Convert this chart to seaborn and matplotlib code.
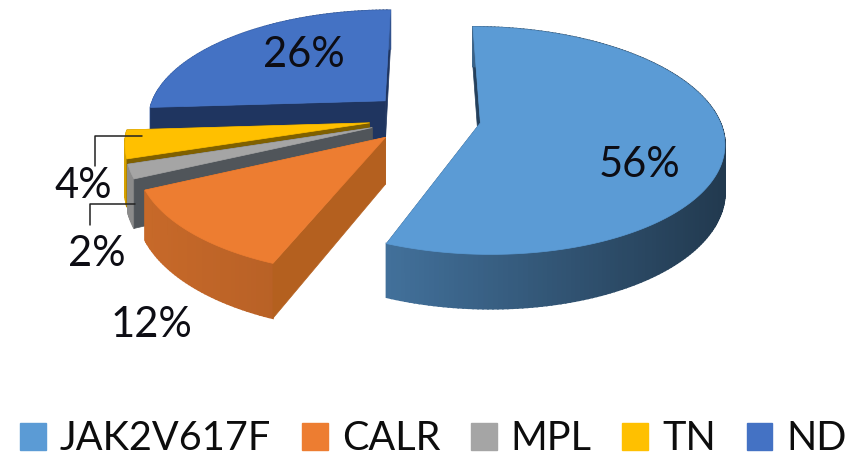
import numpy as np
import matplotlib
matplotlib.use("Agg")
import matplotlib.pyplot as plt
from matplotlib.patches import Rectangle
import seaborn as sns

categories = ["JAK2V617F", "CALR", "MPL", "TN", "ND"]
shares = [56, 12, 2, 4, 26]
top_hex = ["#5B9BD5", "#ED7D31", "#A5A5A5", "#FFC000", "#4472C4"]
wall_hex = ["#24405C", "#B4601F", "#50555A", "#7F6000", "#1F3560"]

sns.set_theme(style="white")
plt.rcParams["font.family"] = ["Lato", "DejaVu Sans"]
palette = sns.color_palette(top_hex)
wall_palette = sns.color_palette(wall_hex)

# Projection of the tilted pie onto the canvas (canvas units are pixels)
CX, CY = 425.0, 118.0
RX, RY = 246.0, 113.0
DEPTH = 47.0
EXPLODE = 0.235
PERSP, PERSP_SHIFT = 0.16, 0.2


def project(x, y, z=0.0):
    s = 1.0 / (1.0 + PERSP * (y + PERSP_SHIFT))
    return CX + RX * x * s, CY - RY * y * s + DEPTH * z * s


def rim_shade(px):
    return np.interp(px, [146, 392, 725], [0.84, 0.72, 0.37])


fig = plt.figure(figsize=(8.62, 4.59), dpi=100)
ax = fig.add_axes([0, 0, 1, 1])
ax.set_xlim(0, 862)
ax.set_ylim(459, 0)
ax.axis("off")

edges = np.deg2rad(np.concatenate([[0], np.cumsum(shares)]) * 3.6)

# Painter's order: back slice first, front slices last
for i in (4, 3, 2, 1, 0):
    start, end = edges[i], edges[i + 1]
    mid = (start + end) / 2
    ex, ey = EXPLODE * np.sin(mid), EXPLODE * np.cos(mid)
    th = np.linspace(start, end, max(int(np.degrees(end - start)), 2) + 1)
    ox, oy = ex + np.sin(th), ey + np.cos(th)
    vx, vy = project(ex, ey)
    vxb, vyb = project(ex, ey, 1)
    tx, ty = project(ox, oy)
    bx, by = project(ox, oy, 1)

    def cut_face(e):
        ax.fill([vx, tx[e], bx[e], vxb], [vy, ty[e], by[e], vyb], color=wall_palette[i], lw=0.5, zorder=2)

    # a cut face is in front of the outer wall only when its normal points at the viewer
    faces = [(0, np.cos(start - np.pi / 2)), (-1, np.cos(end + np.pi / 2))]
    for e, ny in faces:
        if ny >= -1e-6:
            cut_face(e)
    # outer wall, shaded strip by strip
    for a in range(len(th) - 1):
        col = np.clip(np.array(palette[i]) * rim_shade((tx[a] + tx[a + 1]) / 2), 0, 1)
        ax.fill([tx[a], tx[a + 1], bx[a + 1], bx[a]], [ty[a], ty[a + 1], by[a + 1], by[a]],
                color=col, lw=1.2, zorder=2)
    for e, ny in faces:
        if ny < -1e-6:
            cut_face(e)
    # top face
    ax.fill(np.r_[vx, tx], np.r_[vy, ty], color=palette[i], lw=0.5, zorder=2)

label_xy = {"JAK2V617F": (640, 165), "CALR": (151, 325), "MPL": (97, 254), "TN": (83, 186), "ND": (304, 55)}
for name, share in zip(categories, shares):
    ax.text(*label_xy[name], f"{share}%", fontsize=30, color="#0d0d14", ha="center", va="center", zorder=5)

# Leader lines for the two thin slices
ax.plot([142, 95, 95], [136, 136, 166], color="#222222", lw=1.1, zorder=4)
ax.plot([135, 90, 90], [204, 204, 225], color="#222222", lw=1.1, zorder=4)

handles = [Rectangle((0, 0), 1, 1, color=c) for c in palette]
ax.legend(handles, categories, ncol=5, loc="center", bbox_to_anchor=(433.5 / 862, 1 - 439 / 459),
          frameon=False, fontsize=28.5, handlelength=0.65, handleheight=0.65,
          handletextpad=0.35, columnspacing=0.78, borderpad=0, labelcolor="#0d0d0d")

fig.savefig("out.png", dpi=100)
